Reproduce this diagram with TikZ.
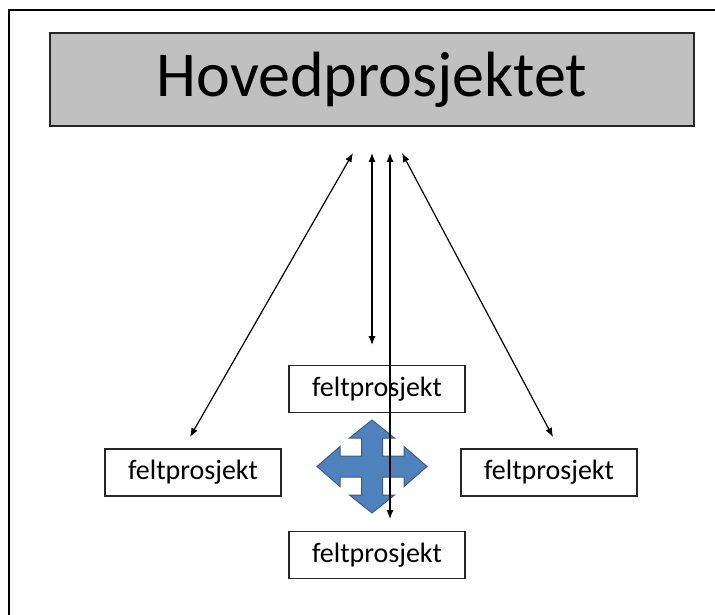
\documentclass[tikz,border=0pt]{standalone}
\usepackage{fontspec}
\setmainfont{Carlito}
\usetikzlibrary{arrows.meta}
\definecolor{korsblaa}{HTML}{4F81BD}
\definecolor{korskant}{HTML}{385D8A}
\definecolor{hovedgraa}{HTML}{C0C0C0}

\begin{document}
\begin{tikzpicture} [
	x=1pt, y=-1pt,
	hoved/.style = {draw=black!85, line width=1.6pt, fill=hovedgraa, minimum width=644pt, minimum height=93pt, font=\fontsize{64}{70}\selectfont},
	felt/.style = {draw=black!85, line width=1.4pt, fill=white, minimum width=176pt, minimum height=47pt, inner sep=0pt, font=\fontsize{28}{32}\selectfont},
	pil/.style = {line width=1.2pt, {Latex[length=9pt,width=7pt]}-{Latex[length=9pt,width=7pt]}},
	kors/.style = {fill=korsblaa, draw=korskant, line width=1pt, line join=miter}
]
\useasboundingbox (0,0) rectangle (715,615);
\draw [line width=2pt] (9,615) -- (9,10) -- (715,10);

\node [hoved] (hoved) at (372,79.5) {Hovedprosjektet};
\node [felt] (midt) at (377,389) {feltprosjekt};
\node [felt] (venstre) at (193,472.5) {feltprosjekt};
\node [felt] (hoyre) at (549,472.5) {feltprosjekt};
\node [felt] (under) at (377,555) {feltprosjekt};

% firevegs pil
\begin{scope}[shift={(372,466.5)}]
\draw [kors] (0,-46.5) -- (22.5,-28.5) -- (10.5,-28.5) -- (10.5,-10.5) -- (32,-10.5) -- (32,-20)
	-- (55,0) -- (32,20) -- (32,10.5) -- (10.5,10.5) -- (10.5,28.5) -- (22.5,28.5)
	-- (0,46.5) -- (-22.5,28.5) -- (-10.5,28.5) -- (-10.5,10.5) -- (-32,10.5) -- (-32,20)
	-- (-55,0) -- (-32,-20) -- (-32,-10.5) -- (-10.5,-10.5) -- (-10.5,-28.5) -- (-22.5,-28.5) -- cycle;
\end{scope}

\coordinate (topp1) at (353,153);
\coordinate (topp2) at (372,153);
\coordinate (topp3) at (390,153);
\coordinate (topp4) at (402,153);
\coordinate (bunn1) at (190,437);
\coordinate (bunn2) at (372,345);
\coordinate (bunn3) at (390,519);
\coordinate (bunn4) at (553,437);

\draw [pil] (topp1) -- (bunn1);
\draw [pil] (topp2) -- (bunn2);
\draw [pil] (topp3) -- (bunn3);
\draw [pil] (topp4) -- (bunn4);
\end{tikzpicture}
\end{document}
